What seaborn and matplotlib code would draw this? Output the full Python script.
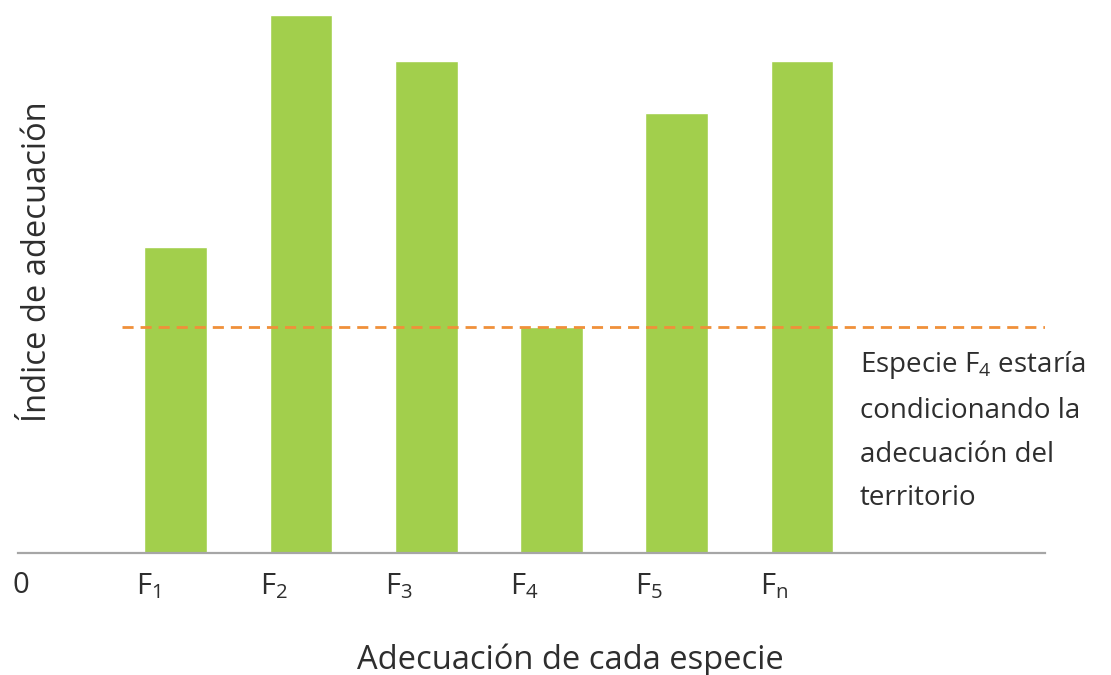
import numpy as np
import pandas as pd
import seaborn as sns
import matplotlib.pyplot as plt

# data (arbitrary units, baseline = 0)
species = ["F1", "F2", "F3", "F4", "F5", "Fn"]
tick_labels = [r"$\mathregular{F_1}$", r"$\mathregular{F_2}$", r"$\mathregular{F_3}$",
               r"$\mathregular{F_4}$", r"$\mathregular{F_5}$", r"$\mathregular{F_n}$"]
values = [306, 538, 492, 226, 440, 492]
threshold = 226

sns.set_style("white")
plt.rcParams['font.family'] = ['Open Sans', 'DejaVu Sans']
plt.rcParams['mathtext.fontset'] = 'custom'
plt.rcParams['mathtext.rm'] = 'Open Sans'
plt.rcParams['mathtext.it'] = 'Open Sans'
plt.rcParams['mathtext.bf'] = 'Open Sans'

txt = "#2e2e2e"
green = "#a2cf4c"
orange = "#f0903a"

df = pd.DataFrame({"especie": species, "valor": values})

fig = plt.figure(figsize=(11.11, 6.75), dpi=100)
ax = fig.add_axes([18 / 1111, 1 - 553 / 675, 1027 / 1111, 553 / 675])

sns.barplot(data=df, x="especie", y="valor", color=green, saturation=1,
            width=0.5, ax=ax)

ax.hlines(threshold, -0.43, 6.94, colors=orange, linestyles=(0, (4, 2.5)), lw=2)

ax.set_xlim(-1.26, 6.94)
ax.set_ylim(0, 553)

for s in ["top", "right", "left"]:
    ax.spines[s].set_visible(False)
ax.spines["bottom"].set_color("#a6a6a6")
ax.spines["bottom"].set_linewidth(1.6)

pos = [-1.237] + [i - 0.22 for i in range(len(species))]
ax.set_xticks(pos)
ax.set_xticklabels(["0"] + tick_labels, fontsize=21, color=txt)
ax.tick_params(axis="x", length=0, pad=13)
ax.set_yticks([])
ax.set_xlabel("")
ax.set_ylabel("")

fig.text(570 / 1111, 1 - 660 / 675, "Adecuación de cada especie", fontsize=23.5,
         color=txt, ha="center", va="center")
fig.text(38 / 1111, 1 - 262 / 675, "Índice de adecuación", fontsize=23.5,
         color=txt, ha="center", va="center", rotation=90)

ax.text(5.46, 204, "Especie $\\mathregular{F_4}$ estaría\ncondicionando la\nadecuación del\nterritorio",
        fontsize=20, color=txt, ha="left", va="top", linespacing=1.75,
        clip_on=False)

fig.savefig("out.png", dpi=100)
